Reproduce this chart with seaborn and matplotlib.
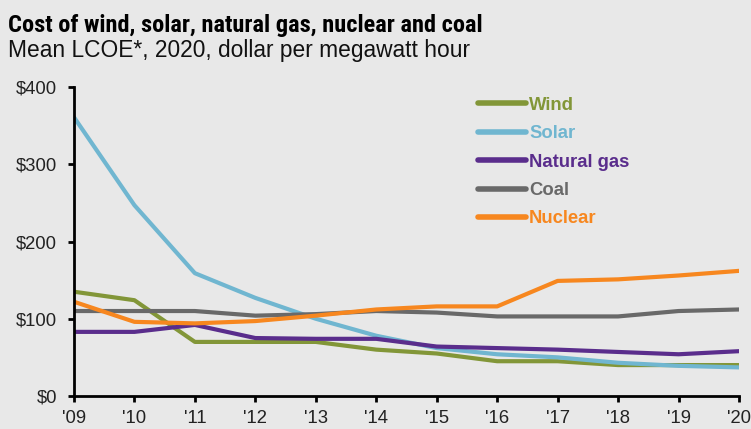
import numpy as np
import pandas as pd
import matplotlib
matplotlib.use("Agg")
import matplotlib.pyplot as plt
from matplotlib import font_manager
import seaborn as sns

years = list(range(2009, 2021))
year_labels = ["'09", "'10", "'11", "'12", "'13", "'14", "'15", "'16", "'17", "'18", "'19", "'20"]
wind = [135, 124, 70, 70, 70, 60, 55, 45, 45, 40, 40, 40]
solar = [361, 247, 159, 127, 100, 78, 62, 54, 50, 43, 39, 37]
natural_gas = [83, 83, 92, 75, 74, 74, 64, 62, 60, 57, 54, 58]
coal = [110, 110, 110, 104, 106, 110, 108, 103, 103, 103, 110, 112]
nuclear = [122, 96, 94, 97, 104, 112, 116, 116, 149, 151, 156, 162]
series_names = ["Wind", "Solar", "Natural gas", "Coal", "Nuclear"]
y_ticks = [0, 100, 200, 300, 400]
y_tick_labels = ["$0", "$100", "$200", "$300", "$400"]

colors = {"Wind": "#829638", "Solar": "#70b6d0", "Natural gas": "#5a2d8c",
          "Coal": "#696969", "Nuclear": "#f7871f"}

df = pd.DataFrame({
    "year": years * 5,
    "value": wind + solar + natural_gas + coal + nuclear,
    "series": sum([[n] * len(years) for n in series_names], []),
})

sns.set_theme(style="white")
plt.rcParams["font.family"] = ["Liberation Sans", "DejaVu Sans"]

installed = {f.name for f in font_manager.fontManager.ttflist}
title_family = ["Liberation Sans", "DejaVu Sans"]
title_size = 15
for cand, size in [("Liberation Sans Narrow", 18), ("Arial Narrow", 18),
                   ("Roboto Condensed", 17.6), ("Open Sans Condensed", 17)]:
    if cand in installed:
        title_family = [cand, "Liberation Sans"]
        title_size = size
        break

bg = "#e8e8e8"
fig = plt.figure(figsize=(7.51, 4.29), dpi=100, facecolor=bg)
ax = fig.add_axes([0.0985, 0.077, 0.8855, 0.72])
ax.set_facecolor(bg)

sns.lineplot(data=df, x="year", y="value", hue="series", hue_order=series_names,
             palette=colors, linewidth=3, ax=ax)

ax.set_xlim(2009, 2020)
ax.set_ylim(0, 400)
ax.set_xticks(years)
ax.set_xticklabels(year_labels)
ax.set_yticks(y_ticks)
ax.set_yticklabels(y_tick_labels)
ax.set_xlabel("")
ax.set_ylabel("")
for s in ["top", "right"]:
    ax.spines[s].set_visible(False)
for s in ["left", "bottom"]:
    ax.spines[s].set_color("black")
    ax.spines[s].set_linewidth(2)
ax.tick_params(axis="both", which="both", direction="out", length=4, width=2,
               color="black", labelsize=13.3, labelcolor="#222222",
               bottom=True, left=True)
ax.tick_params(axis="y", pad=8)
ax.tick_params(axis="x", pad=6)

leg = ax.legend(loc="upper left", bbox_to_anchor=(0.583, 1.023), frameon=False,
                handlelength=2.6, handletextpad=0.15, labelspacing=0.62,
                prop={"weight": "bold", "size": 13.3}, labelcolor="linecolor")
for line in leg.get_lines():
    line.set_linewidth(4)

fig.text(0.011, 0.925, "Cost of wind, solar, natural gas, nuclear and coal",
         fontsize=title_size, fontweight="bold", color="black", va="baseline",
         ha="left", family=title_family)
fig.text(0.011, 0.867, "Mean LCOE*, 2020, dollar per megawatt hour",
         fontsize=16.4, color="#111111", va="baseline", ha="left")

fig.savefig("out.png", dpi=100, facecolor=bg)
